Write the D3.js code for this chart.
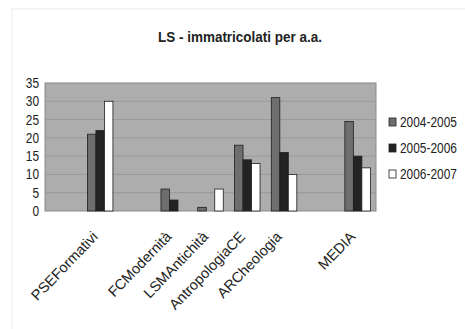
<!DOCTYPE html>
<html>
<head>
<meta charset="utf-8">
<script src="https://cdn.jsdelivr.net/npm/d3@7"></script>
<style>
  body { margin: 0; background: #fff; }
  text { font-family: "Liberation Sans Narrow", "Arial Narrow", "Liberation Sans", sans-serif; fill: #222; }
</style>
</head>
<body>
<div class="svg-wrap"></div>
<script>
// categories (empty slots are blank categories in the original sheet)
let categories = ["", "PSEFormativi", "", "FCModernità", "LSMAntichità", "AntropologiaCE", "ARCheologia", "", "MEDIA"];
let seriesNames = ["2004-2005", "2005-2006", "2006-2007"];
let s2004 = [null, 21, null, 6, 1, 18, 31, null, 24.5];
let s2005 = [null, 22, null, 3, 0, 14, 16, null, 15];
let s2006 = [null, 30, null, 0, 6, 13, 10, null, 11.8];
let yTicks = [0, 5, 10, 15, 20, 25, 30, 35];
let colors = ["#6e6e6e", "#232323", "#ffffff"];

var margin = { top: 83, right: 89, bottom: 118, left: 45 },
  width = 465 - margin.left - margin.right,
  height = 329 - margin.top - margin.bottom;

let root = d3.select(".svg-wrap")
  .append("svg")
  .attr("width", 465)
  .attr("height", 329);

// faint outer frame of the chart
root.append("rect")
  .attr("x", 12).attr("y", 9)
  .attr("width", 470).attr("height", 330)
  .style("fill", "none")
  .style("stroke", "#ececec");

root.append("text")
  .attr("transform", "translate(240,42) scale(0.9,1)")
  .style("text-anchor", "middle")
  .style("font-weight", "bold")
  .style("font-size", "15px")
  .text("LS - immatricolati per a.a.");

let svg = root.append("g")
  .attr("transform", "translate(" + margin.left + "," + margin.top + ")");

let series = [s2004, s2005, s2006];
let idx = d3.range(categories.length);

let scaleX = d3.scaleBand().domain(idx).range([0, width]);
let scaleY = d3.scaleLinear().domain([0, 35]).range([height, 0]);

svg.append("rect")
  .attr("width", width)
  .attr("height", height)
  .style("fill", "#adadad")
  .style("stroke", "#8a8a8a");

svg.selectAll(".grid")
  .data(yTicks.slice(1, -1))
  .enter()
  .append("line")
  .attr("class", "grid")
  .attr("x1", 0).attr("x2", width)
  .attr("y1", d => scaleY(d)).attr("y2", d => scaleY(d))
  .style("stroke", "#999");

let yAxis = d3.axisLeft(scaleY).tickValues(yTicks).tickSize(0).tickPadding(7);
svg.append("g")
  .call(yAxis)
  .call(g => g.select(".domain").remove())
  .selectAll("text")
  .style("font-size", "14px")
  .attr("transform", "scale(0.85,1)");

let barW = 8.5;
let groupOff = -barW * 1.5;

series.forEach((vals, si) => {
  svg.selectAll(".bar" + si)
    .data(idx.filter(i => vals[i] !== null))
    .enter()
    .append("rect")
    .attr("class", "bar" + si)
    .attr("x", i => scaleX(i) + scaleX.bandwidth() / 2 + groupOff + si * barW)
    .attr("y", i => scaleY(vals[i]))
    .attr("width", barW)
    .attr("height", i => height - scaleY(vals[i]))
    .style("fill", colors[si])
    .style("stroke", "#1e1e1e")
    .style("stroke-width", 0.8);
});

let xAxis = d3.axisBottom(scaleX).tickSize(0).tickFormat(i => categories[i]);
svg.append("g")
  .attr("transform", `translate(0,${height})`)
  .call(xAxis)
  .call(g => g.select(".domain").remove())
  .selectAll("text")
  .style("font-size", "14.5px")
  .style("text-anchor", "end")
  .attr("y", 0)
  .attr("dy", "0.35em")
  .attr("transform", "translate(-5,23) rotate(-46)");

let legend = root.append("g")
  .selectAll(".legend-label")
  .data(seriesNames)
  .enter()
  .append("g")
  .attr("class", "legend-label")
  .attr("transform", (d, i) => "translate(389," + (122 + i * 26) + ")");

legend.append("rect")
  .attr("x", 0).attr("y", -4)
  .attr("width", 7).attr("height", 8)
  .style("fill", (d, i) => colors[i])
  .style("stroke", "#1e1e1e")
  .style("stroke-width", 0.8);

legend.append("text")
  .attr("transform", "translate(11,0) scale(0.85,1)")
  .attr("dy", ".35em")
  .style("font-size", "14px")
  .text(d => d);
</script>
</body>
</html>
